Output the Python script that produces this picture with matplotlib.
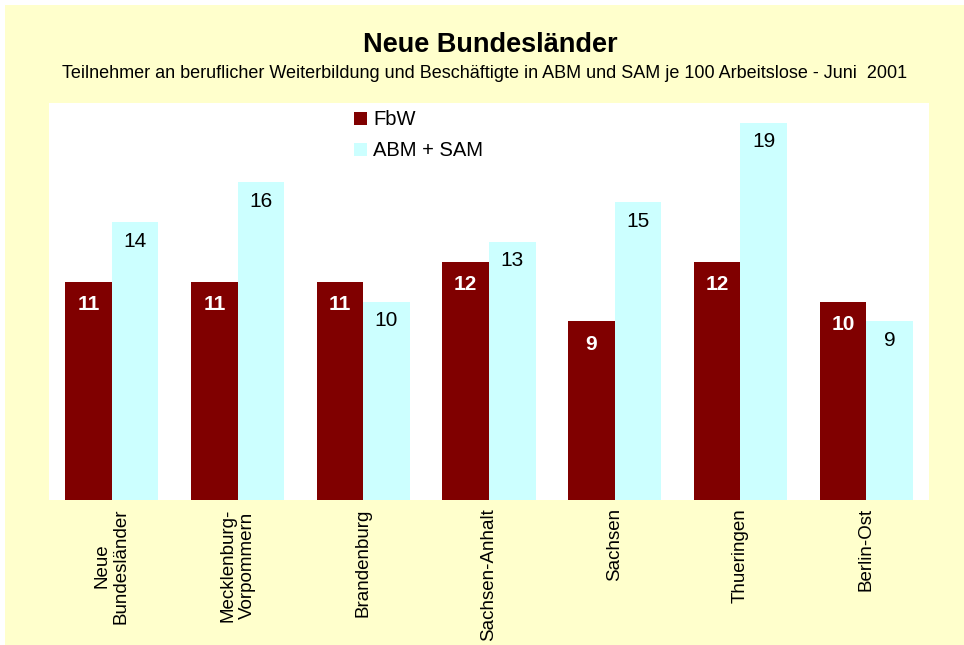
import matplotlib
matplotlib.use('Agg')
import matplotlib.pyplot as plt
from matplotlib.patches import Rectangle
import numpy as np

regions = ['Neue\nBundesländer', 'Mecklenburg-\nVorpommern', 'Brandenburg',
           'Sachsen-Anhalt', 'Sachsen', 'Thueringen', 'Berlin-Ost']
fbw = [11, 11, 11, 12, 9, 12, 10]
abm_sam = [14, 16, 10, 13, 15, 19, 9]

plt.rcParams['font.family'] = ['Liberation Sans', 'DejaVu Sans']

W, H = 964, 645
fig = plt.figure(figsize=(W / 100, H / 100), dpi=100)
fig.patch.set_facecolor('white')
# pale yellow chart area with a small white margin top/left
fig.patches.append(Rectangle((5 / W, 0), 1, 1 - 5 / H, transform=fig.transFigure,
                             facecolor='#FFFFCC', edgecolor='none', zorder=-10))

ax = fig.add_axes([49 / W, 1 - 500 / H, (929 - 49) / W, (500 - 103) / H])
ax.set_facecolor('white')

x = np.arange(len(regions))
w = 0.37
b1 = ax.bar(x - w / 2, fbw, w, color='#800000', label='FbW')
b2 = ax.bar(x + w / 2, abm_sam, w, color='#CCFFFF', label='ABM + SAM')

for rect, v in zip(b1, fbw):
    ax.annotate(str(v), (rect.get_x() + rect.get_width() / 2, rect.get_height()),
                xytext=(0, -23), textcoords='offset pixels', ha='center', va='center',
                color='white', fontsize=15, fontweight='bold')
for rect, v in zip(b2, abm_sam):
    ax.annotate(str(v), (rect.get_x() + rect.get_width() / 2, rect.get_height()),
                xytext=(0, -19), textcoords='offset pixels', ha='center', va='center',
                color='black', fontsize=15)

ax.set_xlim(-0.5, len(regions) - 0.5)
ax.set_ylim(0, 20)
ax.set_yticks([])
ax.set_xticks(x)
ax.set_xticklabels(regions, rotation=90, fontsize=13.5, ha='center', va='top',
                   multialignment='center', linespacing=1.15)
ax.tick_params(axis='x', length=0, pad=6)
for s in ax.spines.values():
    s.set_visible(False)

ax.legend(loc='upper left', bbox_to_anchor=(0.326, 1.027), frameon=False, fontsize=14.5,
          handlelength=0.65, handleheight=0.65, handletextpad=0.3, labelspacing=0.6)

fig.text(490 / W, 1 - 45 / H, 'Neue Bundesländer', ha='center', va='center',
         fontsize=19.5, fontweight='bold')
fig.text(485 / W, 1 - 73 / H,
         'Teilnehmer an beruflicher Weiterbildung und Beschäftigte in ABM und SAM je 100 Arbeitslose - Juni  2001',
         ha='center', va='center', fontsize=13)

fig.savefig('out.png', dpi=100, facecolor=fig.get_facecolor())
